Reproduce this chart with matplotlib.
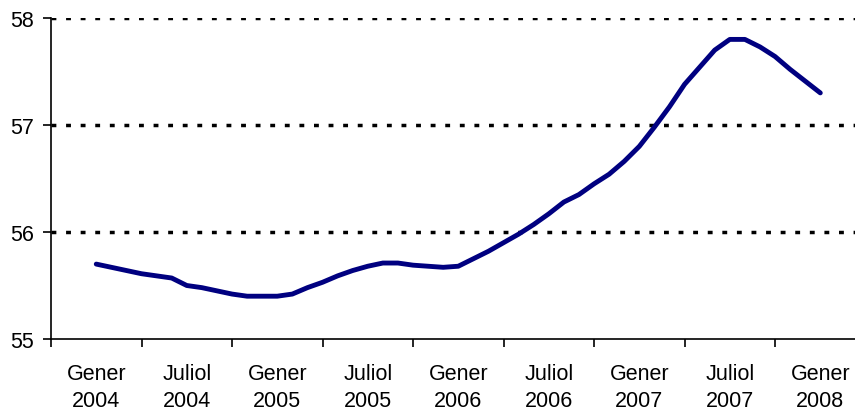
import numpy as np
import matplotlib
matplotlib.use("Agg")
import matplotlib.pyplot as plt

# taxa mensual, gener 2004 - gener 2008
mesos = np.arange(49)
valors = [55.70, 55.67, 55.64, 55.61, 55.59, 55.57, 55.50, 55.48, 55.45, 55.42,
          55.40, 55.40, 55.40, 55.42, 55.48, 55.53, 55.59, 55.64, 55.68, 55.71,
          55.71, 55.69, 55.68, 55.67, 55.68, 55.75, 55.82, 55.90, 55.98, 56.07,
          56.17, 56.28, 56.35, 56.45, 56.54, 56.66, 56.80, 56.98, 57.17, 57.38,
          57.54, 57.70, 57.80, 57.80, 57.73, 57.64, 57.52, 57.41, 57.30]
etiquetes = ["Gener\n2004", "Juliol\n2004", "Gener\n2005", "Juliol\n2005",
             "Gener\n2006", "Juliol\n2006", "Gener\n2007", "Juliol\n2007",
             "Gener\n2008"]

plt.rcParams['font.family'] = ['Liberation Sans', 'DejaVu Sans']

fig = plt.figure(figsize=(8.55, 4.14), dpi=100)
ax = fig.add_axes([51/855, 74/414, 804/855, 321/414])

for y in [56, 57, 58]:
    ax.axhline(y, color='black', lw=2.5, linestyle=(0, (1.4, 2.8)), zorder=1)

ax.plot(mesos, valors, color='#000080', lw=3.5, solid_capstyle='round',
        solid_joinstyle='round', zorder=3)

ax.set_ylim(55, 58)
ax.set_xlim(-3, 50.3)
ax.set_yticks([55, 56, 57, 58])
ax.set_xticks(np.arange(-3, 50, 6))
ax.set_xticklabels([])
ax.set_xticks(np.arange(0, 49, 6), minor=True)
ax.set_xticklabels(etiquetes, minor=True, fontsize=15.5, linespacing=1.42)

ax.tick_params(axis='x', which='major', direction='out', length=6, width=1.2)
ax.tick_params(axis='x', which='minor', length=0, pad=17)
ax.tick_params(axis='y', direction='out', length=6, width=1.2, pad=6,
               labelsize=15.5)

for s in ['top', 'right']:
    ax.spines[s].set_visible(False)
for s in ['left', 'bottom']:
    ax.spines[s].set_linewidth(1.2)

fig.savefig('out.png', dpi=100)
